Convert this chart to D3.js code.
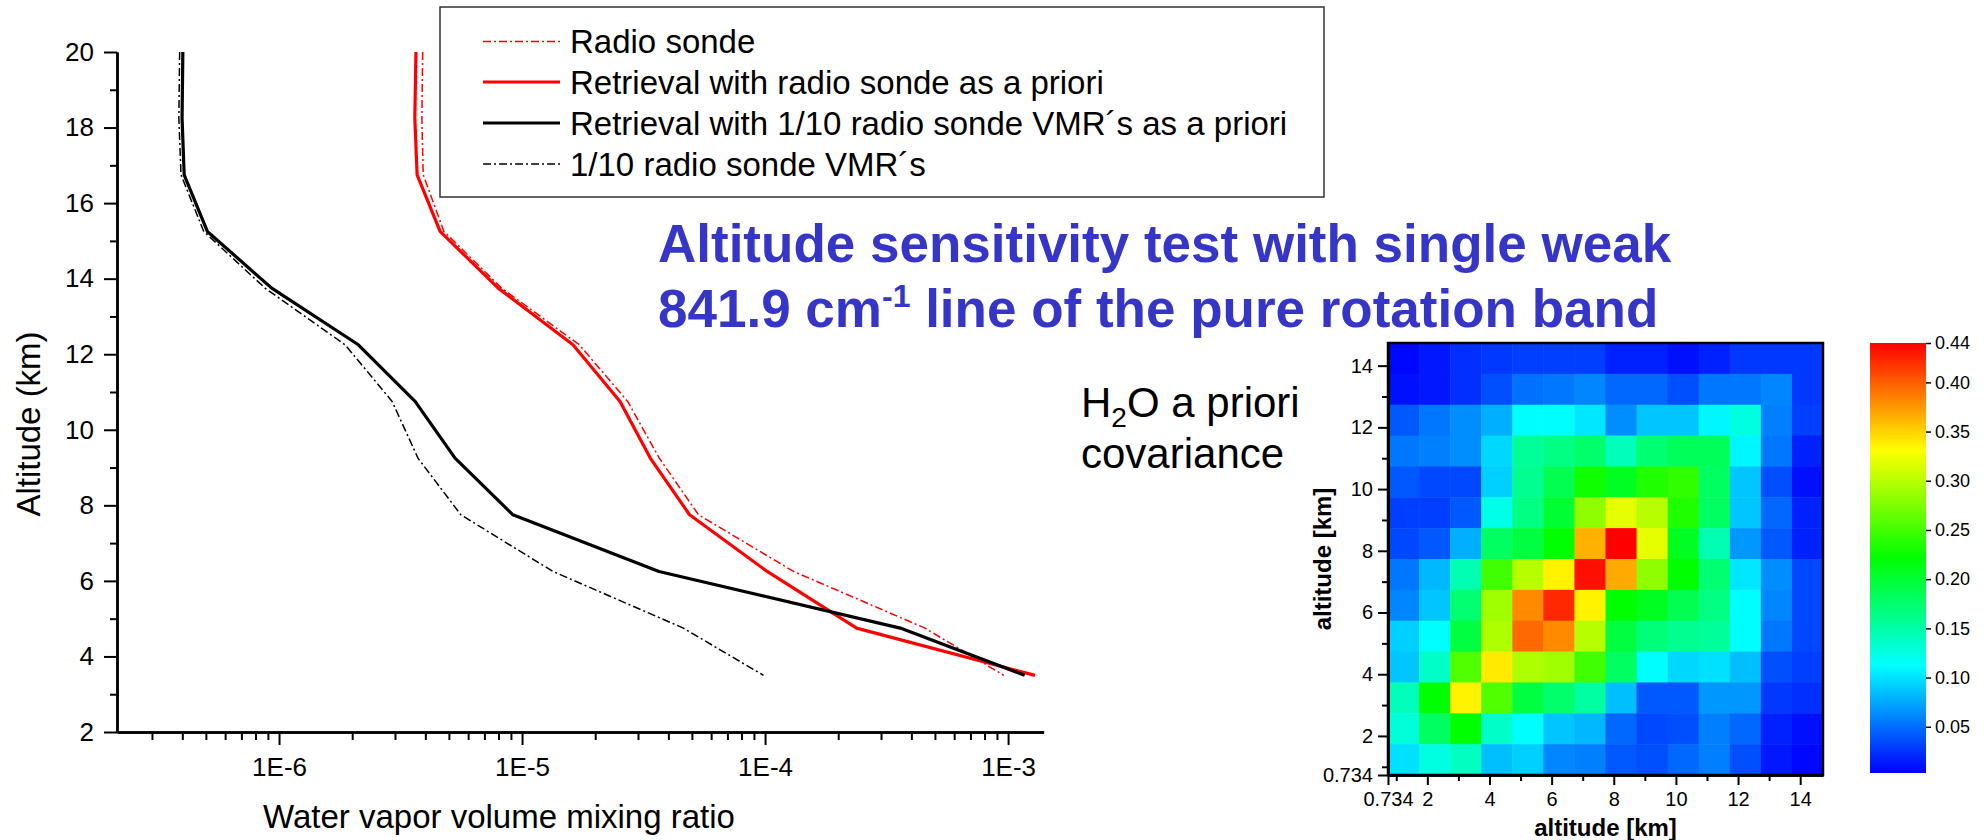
<!DOCTYPE html>
<html>
<head>
<meta charset="utf-8">
<script src="https://cdn.jsdelivr.net/npm/d3@7"></script>
<style>
  body { margin: 0; background: #fff; }
  svg { font-family: Arial, "Liberation Sans", sans-serif; }
</style>
</head>
<body>
<svg id="chart" width="1986" height="840"></svg>
<script>
// profile levels (km)
const altitudes = [20, 18.25, 16.75, 15.25, 13.75, 12.25, 10.75, 9.25, 7.75, 6.25, 4.75, 3.5];

// water vapour VMR profiles
const radioSonde     = [3.9e-6, 3.87e-6, 3.92e-6, 4.77e-6, 8.24e-6, 1.72e-5, 2.72e-5, 3.67e-5, 5.32e-5, 1.31e-4, 4.55e-4, 9.6e-4];
const retrievalSonde = [3.66e-6, 3.62e-6, 3.7e-6, 4.6e-6, 7.98e-6, 1.62e-5, 2.53e-5, 3.37e-5, 4.89e-5, 1.02e-4, 2.38e-4, 1.29e-3];
const retrievalTenth = [4.02e-7, 3.99e-7, 4.07e-7, 5.07e-7, 9.33e-7, 2.12e-6, 3.63e-6, 5.3e-6, 9.17e-6, 3.66e-5, 3.6e-4, 1.17e-3];
const tenthSonde     = [3.9e-7, 3.87e-7, 3.95e-7, 4.9e-7, 8.76e-7, 1.87e-6, 2.92e-6, 3.73e-6, 5.6e-6, 1.34e-5, 4.61e-5, 9.85e-5];

const seriesNames = [
  "Radio sonde",
  "Retrieval with radio sonde as a priori",
  "Retrieval with 1/10 radio sonde VMR\u00B4s as a priori",
  "1/10 radio sonde VMR\u00B4s"
];

const xMajorTicks = [1e-6, 1e-5, 1e-4, 1e-3];
const yTicks = [2, 4, 6, 8, 10, 12, 14, 16, 18, 20];

// a priori covariance, 14 x 14 cells, rows listed from the top (14.2 km) down
const cellEdges = [0.734, 1.734, 2.734, 3.734, 4.734, 5.734, 6.734, 7.734, 8.734, 9.734, 10.734, 11.734, 12.734, 13.734, 14.734];
const covRowsTopDown = [
  [.006, .013, .023, .027, .030, .030, .030, .017, .017, .010, .017, .027, .027, .027],
  [.010, .013, .023, .037, .051, .054, .061, .047, .047, .037, .054, .054, .061, .027],
  [.041, .054, .064, .078, .112, .112, .102, .064, .088, .088, .109, .125, .058, .030],
  [.054, .058, .064, .095, .156, .166, .177, .142, .173, .184, .184, .109, .054, .017],
  [.041, .034, .034, .092, .160, .187, .228, .208, .235, .242, .180, .088, .037, .010],
  [.030, .030, .041, .122, .166, .201, .283, .320, .300, .235, .180, .088, .047, .017],
  [.034, .041, .078, .180, .194, .221, .364, .440, .320, .208, .146, .068, .041, .017],
  [.054, .082, .146, .249, .300, .336, .433, .367, .283, .221, .173, .102, .064, .034],
  [.061, .088, .173, .290, .381, .423, .336, .221, .208, .187, .166, .112, .061, .034],
  [.092, .112, .194, .296, .395, .381, .300, .194, .170, .160, .156, .112, .054, .034],
  [.088, .136, .256, .340, .296, .290, .249, .180, .112, .095, .099, .085, .037, .030],
  [.142, .221, .336, .256, .194, .177, .153, .085, .041, .041, .068, .068, .027, .023],
  [.129, .180, .221, .136, .112, .088, .082, .047, .034, .037, .058, .047, .017, .010],
  [.099, .125, .139, .085, .092, .061, .058, .041, .037, .047, .058, .037, .013, .006]
];
const covAxisTicks = [0.734, 2, 4, 6, 8, 10, 12, 14];
const colorbarTicks = [0.05, 0.10, 0.15, 0.20, 0.25, 0.30, 0.35, 0.40, 0.44];

const svg = d3.select("#chart");

function styleAxis(g, fontSize) {
  g.selectAll("text").attr("fill", "#000").style("font-size", fontSize + "px");
  g.select(".domain").attr("stroke", "#000").attr("stroke-width", 2.5);
  g.selectAll(".tick line").attr("stroke", "#000").attr("stroke-width", 2);
}

// ---------- profile plot ----------
const x = d3.scaleLog().domain([2.154e-7, 1.40e-3]).range([117, 1043.6]);
const y = d3.scaleLinear().domain([2, 20]).range([732, 52]);

const xMinor = x.ticks().filter(v => xMajorTicks.indexOf(v) < 0 && Math.abs(Math.log10(v) % 1) > 1e-6);

svg.append("g").attr("transform", "translate(0,732)")
  .call(d3.axisBottom(x).tickValues(xMinor).tickSize(8).tickSizeOuter(0).tickFormat(""))
  .call(g => styleAxis(g, 26));
svg.append("g").attr("transform", "translate(0,732)")
  .call(d3.axisBottom(x).tickValues(xMajorTicks).tickSize(13).tickSizeOuter(0).tickPadding(13)
    .tickFormat(d => "1E" + Math.round(Math.log10(d))))
  .call(g => styleAxis(g, 26));

svg.append("g").attr("transform", "translate(117,0)")
  .call(d3.axisLeft(y).tickValues(d3.range(3, 20, 2)).tickSize(7).tickSizeOuter(0).tickFormat(""))
  .call(g => styleAxis(g, 26));
svg.append("g").attr("transform", "translate(117,0)")
  .call(d3.axisLeft(y).tickValues(yTicks).tickSize(13).tickSizeOuter(0).tickPadding(10))
  .call(g => styleAxis(g, 26));

svg.append("text")
  .attr("transform", "translate(40,424) rotate(-90)")
  .attr("text-anchor", "middle")
  .style("font-size", "33px")
  .text("Altitude (km)");

svg.append("text")
  .attr("x", 263).attr("y", 828)
  .style("font-size", "33px")
  .text("Water vapor volume mixing ratio");

const series = [
  {name: seriesNames[0], values: radioSonde, color: "#ff0000", width: 1.5, dash: "8,3,2,3"},
  {name: seriesNames[1], values: retrievalSonde, color: "#ff0000", width: 3.2, dash: null},
  {name: seriesNames[2], values: retrievalTenth, color: "#000000", width: 3.2, dash: null},
  {name: seriesNames[3], values: tenthSonde, color: "#000000", width: 1.5, dash: "8,3,2,3"}
];

const line = d3.line().x(d => x(d[1])).y(d => y(d[0]));

svg.append("g").selectAll("path")
  .data(series)
  .join("path")
  .attr("d", s => line(altitudes.map((a, i) => [a, s.values[i]])))
  .attr("fill", "none")
  .attr("stroke", s => s.color)
  .attr("stroke-width", s => s.width)
  .attr("stroke-dasharray", s => s.dash)
  .attr("stroke-linejoin", "round");

// legend
const legend = svg.append("g");
legend.append("rect")
  .attr("x", 440).attr("y", 7).attr("width", 884).attr("height", 190)
  .attr("fill", "#fff").attr("stroke", "#333").attr("stroke-width", 1.5);
const rowY = [41.5, 82, 123, 164];
const items = legend.selectAll("g.item").data(series).join("g").attr("class", "item");
items.append("line")
  .attr("x1", 483).attr("x2", 560)
  .attr("y1", (d, i) => rowY[i]).attr("y2", (d, i) => rowY[i])
  .attr("stroke", d => d.color)
  .attr("stroke-width", d => d.width)
  .attr("stroke-dasharray", d => d.dash);
items.append("text")
  .attr("x", 570).attr("y", (d, i) => rowY[i])
  .attr("dominant-baseline", "central")
  .style("font-size", "33px")
  .text(d => d.name);

// title
const title = svg.append("g").attr("fill", "#3535c8").style("font-weight", "bold").style("font-size", "53px");
title.append("text").attr("x", 658).attr("y", 262).text("Altitude sensitivity test with single weak");
const t2 = title.append("text").attr("x", 658).attr("y", 327);
t2.append("tspan").text("841.9 cm");
t2.append("tspan").attr("dy", -20).style("font-size", "32px").text("-1");
t2.append("tspan").attr("dy", 20).text(" line of the pure rotation band");

// H2O a priori covariance label
const lab = svg.append("g").style("font-size", "42px").attr("fill", "#000");
const l1 = lab.append("text").attr("x", 1081).attr("y", 417);
l1.append("tspan").text("H");
l1.append("tspan").attr("dy", 10).style("font-size", "28px").text("2");
l1.append("tspan").attr("dy", -10).text("O a priori");
lab.append("text").attr("x", 1081).attr("y", 468).text("covariance");

// ---------- covariance map ----------
const xh = d3.scaleLinear().domain([0.734, 14.734]).range([1388, 1823]);
const yh = d3.scaleLinear().domain([0.734, 14.734]).range([775, 343]);
const colorDomain = [0.003, 0.1123, 0.2215, 0.3308, 0.44];
const color = d3.scaleLinear().domain(colorDomain)
  .range(["#0000ff", "#00ffff", "#00ff00", "#ffff00", "#ff0000"]);

const cells = [];
covRowsTopDown.forEach((row, r) => {
  const k = covRowsTopDown.length - 1 - r;
  row.forEach((v, c) => cells.push({lo: cellEdges[k], hi: cellEdges[k + 1], left: cellEdges[c], right: cellEdges[c + 1], v}));
});

svg.append("g").selectAll("rect")
  .data(cells)
  .join("rect")
  .attr("x", d => xh(d.left))
  .attr("y", d => yh(d.hi))
  .attr("width", d => xh(d.right) - xh(d.left) + 0.5)
  .attr("height", d => yh(d.lo) - yh(d.hi) + 0.5)
  .attr("fill", d => color(d.v));

const covMinor = d3.range(1, 14, 2);
svg.append("g").attr("transform", "translate(0,775)")
  .call(d3.axisBottom(xh).tickValues(covMinor).tickSize(6).tickSizeOuter(0).tickFormat(""))
  .call(g => styleAxis(g, 20));
svg.append("g").attr("transform", "translate(0,775)")
  .call(d3.axisBottom(xh).tickValues(covAxisTicks).tickSize(10).tickSizeOuter(0).tickPadding(7)
    .tickFormat(d => d === 0.734 ? "0.734" : d))
  .call(g => styleAxis(g, 20));
svg.append("g").attr("transform", "translate(1388,0)")
  .call(d3.axisLeft(yh).tickValues(covMinor).tickSize(6).tickSizeOuter(0).tickFormat(""))
  .call(g => styleAxis(g, 20));
svg.append("g").attr("transform", "translate(1388,0)")
  .call(d3.axisLeft(yh).tickValues(covAxisTicks).tickSize(10).tickSizeOuter(0).tickPadding(5)
    .tickFormat(d => d === 0.734 ? "0.734" : d))
  .call(g => styleAxis(g, 20));

svg.append("rect")
  .attr("x", 1388).attr("y", 343).attr("width", 435).attr("height", 432)
  .attr("fill", "none").attr("stroke", "#000").attr("stroke-width", 2.5);

svg.append("text")
  .attr("x", 1605.5).attr("y", 836)
  .attr("text-anchor", "middle")
  .style("font-size", "24px").style("font-weight", "bold")
  .text("altitude [km]");
svg.append("text")
  .attr("transform", "translate(1331,559) rotate(-90)")
  .attr("text-anchor", "middle")
  .style("font-size", "24px").style("font-weight", "bold")
  .text("altitude [km]");

// colour bar
const yc = d3.scaleLinear().domain([0.003, 0.44]).range([773, 343]);
const grad = svg.append("defs").append("linearGradient")
  .attr("id", "jet").attr("x1", 0).attr("y1", 1).attr("x2", 0).attr("y2", 0);
grad.selectAll("stop").data(colorDomain).join("stop")
  .attr("offset", d => (d - 0.003) / (0.44 - 0.003))
  .attr("stop-color", d => color(d));
svg.append("rect")
  .attr("x", 1870).attr("y", yc(0.44)).attr("width", 56).attr("height", yc(0.003) - yc(0.44))
  .attr("fill", "url(#jet)");
svg.append("g").attr("transform", "translate(1926,0)")
  .call(d3.axisRight(yc).tickValues(colorbarTicks).tickSize(5).tickSizeOuter(0).tickPadding(4)
    .tickFormat(d3.format(".2f")))
  .call(g => {
    styleAxis(g, 18);
    g.select(".domain").remove();
    g.selectAll(".tick line").attr("stroke-width", 1.5);
  });
</script>
</body>
</html>
